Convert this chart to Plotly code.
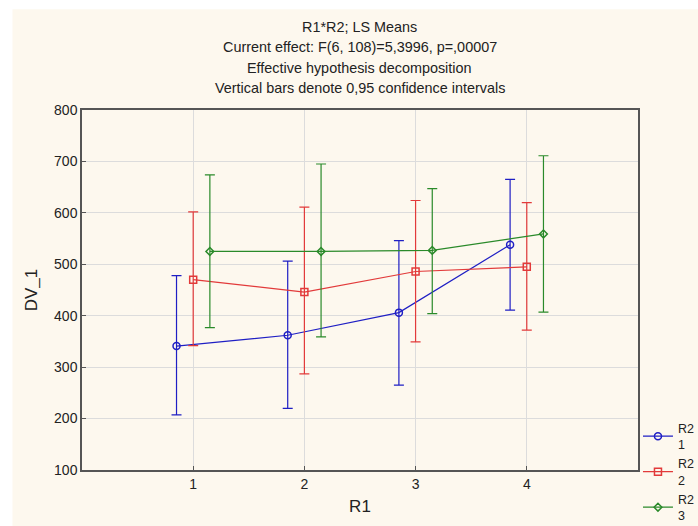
import plotly.graph_objects as go

r1_levels = [1, 2, 3, 4]
r2_labels = ["R2<br>1", "R2<br>2", "R2<br>3"]

means_r2_1 = [341, 362, 406, 538]
upper_r2_1 = [478, 506, 546, 665]
lower_r2_1 = [207, 220, 265, 411]

means_r2_2 = [470, 446, 486, 495]
upper_r2_2 = [602, 611, 624, 620]
lower_r2_2 = [342, 287, 349, 372]

means_r2_3 = [525, 525, 527, 559]
upper_r2_3 = [674, 695, 647, 711]
lower_r2_3 = [377, 359, 404, 407]

series = [
    (r2_labels[0], means_r2_1, upper_r2_1, lower_r2_1, "#1f1fc4", "circle-open", 7, -0.15),
    (r2_labels[1], means_r2_2, upper_r2_2, lower_r2_2, "#e23a3a", "square-open", 7, 0.0),
    (r2_labels[2], means_r2_3, upper_r2_3, lower_r2_3, "#2a8a2a", "diamond-open", 6, 0.15),
]

fig = go.Figure()
for name, m, up, lo, col, sym, sz, off in series:
    fig.add_trace(go.Scatter(
        x=[r + off for r in r1_levels], y=m, name=name,
        mode="lines+markers",
        line=dict(color=col, width=1.2),
        marker=dict(symbol=sym, size=sz, color=col, line=dict(width=1.5, color=col)),
        error_y=dict(type="data", symmetric=False,
                     array=[u - v for u, v in zip(up, m)],
                     arrayminus=[v - l for v, l in zip(m, lo)],
                     color=col, thickness=1.2, width=5),
    ))

title_lines = [
    "R1*R2; LS Means",
    "Current effect: F(6, 108)=5,3996, p=,00007",
    "Effective hypothesis decomposition",
    "Vertical bars denote 0,95 confidence intervals",
]

fig.update_layout(
    width=698, height=526,
    margin=dict(l=82, r=55, t=110, b=56),
    paper_bgcolor="white",
    plot_bgcolor="white",
    font=dict(family="Liberation Sans, Arial, sans-serif", size=14, color="#222"),
    showlegend=True,
    legend=dict(xref="container", yref="container",
                x=0.914, xanchor="left", y=0.214, yanchor="top",
                bgcolor="rgba(0,0,0,0)", font=dict(size=12.5, color="#222"),
                tracegroupgap=0, itemwidth=30),
    shapes=[dict(type="rect", xref="paper", yref="paper",
                 x0=-0.125, x1=1.12, y0=-0.17, y1=1.28,
                 fillcolor="#fdf8ee", line=dict(width=0), layer="below")],
)

for i, t in enumerate(title_lines):
    fig.add_annotation(text=t, xref="paper", yref="paper", x=0.5, y=1.0,
                       yshift=73 - i * 20.3, showarrow=False,
                       xanchor="center", yanchor="bottom",
                       font=dict(size=14.4, color="#222"))

fig.update_xaxes(range=[0, 5], tickvals=r1_levels, ticktext=[str(v) for v in r1_levels],
                 showgrid=True, gridcolor="#dcdcdc", gridwidth=1,
                 showline=True, linecolor="#555", linewidth=1.5, mirror=True,
                 ticks="inside", ticklen=4, tickcolor="#555",
                 zeroline=False, automargin=False, title=dict(text="R1", standoff=10))
fig.update_yaxes(range=[100, 800], dtick=100,
                 showgrid=True, gridcolor="#dcdcdc", gridwidth=1,
                 showline=True, linecolor="#555", linewidth=1.5, mirror=True,
                 ticks="inside", ticklen=4, tickcolor="#555",
                 zeroline=False, automargin=False, title=dict(text="DV_1", standoff=12))

fig.write_html("out.html")
